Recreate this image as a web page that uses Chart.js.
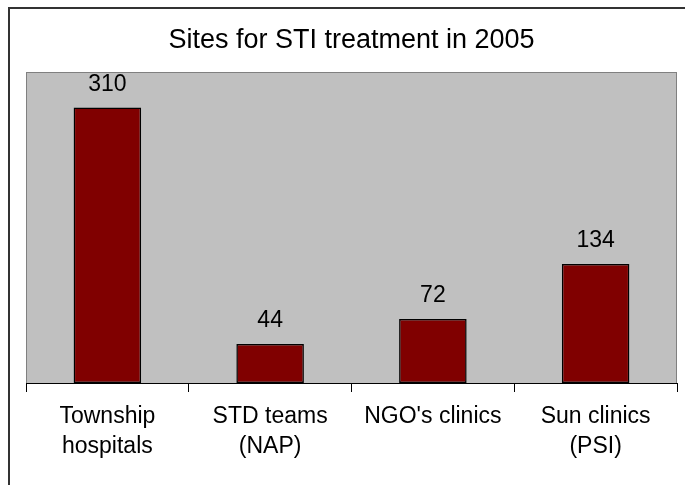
<!DOCTYPE html>
<html>
<head>
<meta charset="utf-8">
<script src="https://cdn.jsdelivr.net/npm/chart.js@4/dist/chart.umd.min.js"></script>
<style>
  html, body { margin: 0; padding: 0; background: #fff; }
  #wrap { width: 685px; height: 485px; position: relative; }
</style>
</head>
<body>
<div id="wrap"><canvas id="chart" width="685" height="485"></canvas></div>
<script>
const categories = [['Township', 'hospitals'], ['STD teams', '(NAP)'], ["NGO's clinics"], ['Sun clinics', '(PSI)']];
const sites = [310, 44, 72, 134];
const chartTitle = 'Sites for STI treatment in 2005';
const fontFamily = '"Liberation Sans", Arial, sans-serif';

// grey plot area, outer frame
const backdrop = {
    id: 'backdrop',
    beforeDraw(chart) {
        const { ctx, chartArea: a } = chart;
        ctx.save();
        ctx.fillStyle = '#fff';
        ctx.fillRect(0, 0, chart.width, chart.height);
        ctx.strokeStyle = '#333';
        ctx.lineWidth = 2;
        ctx.strokeRect(9, 8, chart.width + 20, chart.height + 20);
        ctx.fillStyle = '#c0c0c0';
        ctx.fillRect(a.left, a.top, a.right - a.left, a.bottom - a.top);
        ctx.strokeStyle = '#808080';
        ctx.lineWidth = 1;
        ctx.strokeRect(a.left + 0.5, a.top + 0.5, a.right - a.left - 1, a.bottom - a.top);
        ctx.restore();
    }
};

// value above each bar
const valueLabels = {
    id: 'valueLabels',
    afterDatasetsDraw(chart) {
        const { ctx } = chart;
        const meta = chart.getDatasetMeta(0);
        ctx.save();
        ctx.font = '23px ' + fontFamily;
        ctx.fillStyle = '#000';
        ctx.textAlign = 'center';
        ctx.textBaseline = 'alphabetic';
        meta.data.forEach((bar, i) => {
            ctx.fillText(String(sites[i]), bar.x, bar.y - 17);
        });
        ctx.restore();
    }
};

new Chart(document.getElementById('chart'), {
    type: 'bar',
    data: {
        labels: categories,
        datasets: [{
            data: sites,
            backgroundColor: '#800000',
            borderColor: '#000',
            borderWidth: 1.5,
            borderSkipped: false,
            categoryPercentage: 1,
            barPercentage: 0.415
        }]
    },
    options: {
        responsive: false,
        animation: false,
        layout: { padding: { left: 26, right: 8, top: 0, bottom: 0 } },
        plugins: {
            legend: { display: false },
            tooltip: { enabled: false },
            title: {
                display: true,
                text: chartTitle,
                color: '#000',
                font: { family: fontFamily, size: 27, weight: 'normal', lineHeight: 1.2 },
                padding: { top: 24, bottom: 15.6 }
            }
        },
        scales: {
            x: {
                offset: true,
                grid: { offset: true, drawOnChartArea: false, drawTicks: true, tickLength: 9, color: '#000' },
                border: { color: '#000', width: 1 },
                ticks: {
                    color: '#000',
                    padding: 10,
                    maxRotation: 0,
                    autoSkip: false,
                    font: { family: fontFamily, size: 23, lineHeight: 1.3 }
                },
                afterFit(scale) { scale.height = 102; }
            },
            y: {
                display: false,
                min: 0,
                max: 350
            }
        }
    },
    plugins: [backdrop, valueLabels]
});
</script>
</body>
</html>
